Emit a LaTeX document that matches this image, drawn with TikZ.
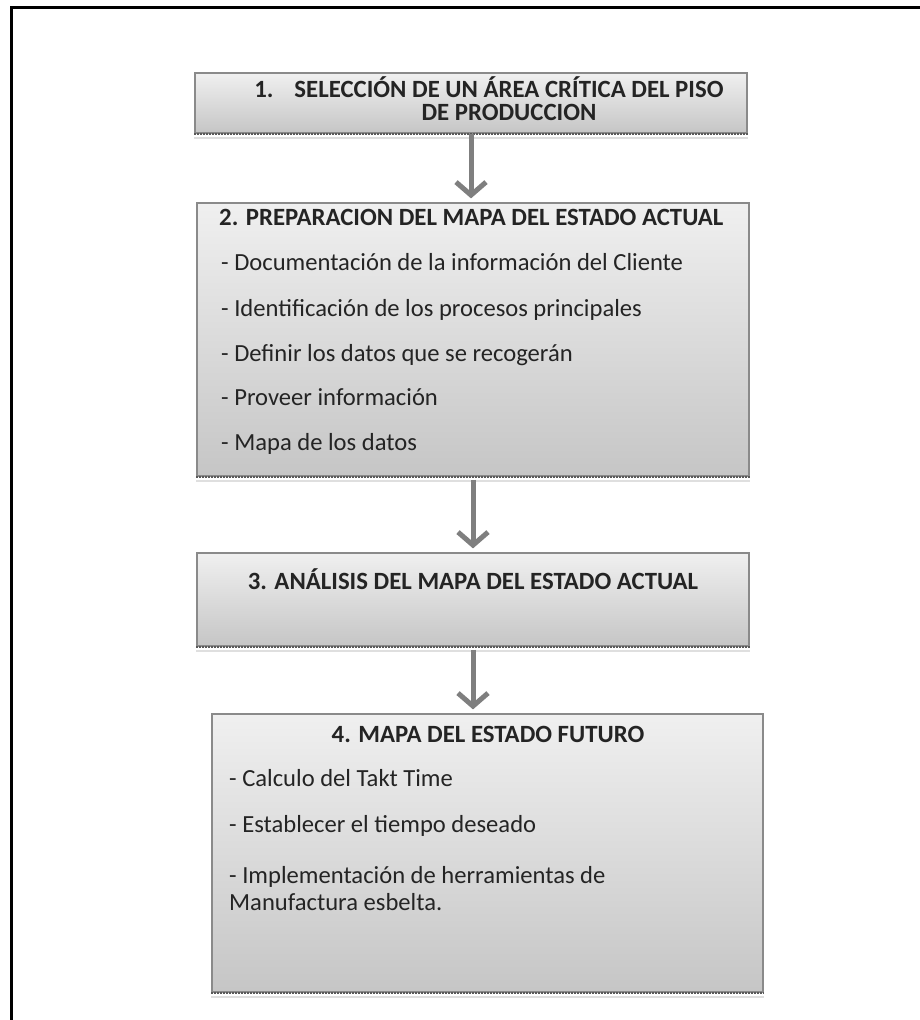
\documentclass[tikz,border=0pt]{standalone}
\usepackage{fontspec}
\setmainfont{Carlito}
\usetikzlibrary{arrows.meta,shadows}
\definecolor{txt}{HTML}{242424}
\definecolor{edge}{HTML}{8A8A8A}
\definecolor{arrowgray}{HTML}{7F7F7F}
\begin{document}
\begin{tikzpicture}[x=1pt,y=-1pt,
  box/.style={rectangle, draw=edge, line width=1.2pt, top color=gray!12, bottom color=gray!45, inner sep=0pt},
  hdr/.style={font=\fontsize{24.8}{23.5}\selectfont\bfseries, text=txt, inner sep=0pt},
  item/.style={font=\fontsize{24.6}{27}\selectfont, text=txt, inner sep=0pt, anchor=mid west, align=left},
  arr/.style={draw=arrowgray, line width=5pt, -{Straight Barb[length=13pt,width=30pt]}, shorten >=4pt},
  shadowline/.style={draw=gray!70!black, line width=2pt, dash pattern=on 2pt off 1pt}
]
\useasboundingbox (0,0) rectangle (920,1020);
% outer frame
\draw[line width=3pt, black] (11,1022) -- (11,7) -- (922,7);

% boxes
\node[box, minimum width=552pt, minimum height=60pt] (b1) at (471,103) {};
\node[box, minimum width=552pt, minimum height=273pt] (b2) at (473,339.5) {};
\node[box, minimum width=552pt, minimum height=93pt] (b3) at (473,599.5) {};
\node[box, minimum width=551pt, minimum height=278pt] (b4) at (487.5,853) {};

% bottom shadow edges
\foreach \b in {b1,b2,b3,b4}{
  \draw[shadowline] (\b.south west) -- (\b.south east);
  \draw[gray!25, line width=2pt] ([yshift=-4pt]\b.south west) -- ([yshift=-4pt]\b.south east);
}

% box 1 text
\node[hdr, anchor=north, align=center] (t1a) at (509,76) {\llap{1.\hspace{21pt}}SELECCIÓN DE UN ÁREA CRÍTICA DEL PISO\\DE PRODUCCION};

% box 2 text
\node[hdr, anchor=mid west] (t2h) at (219,223) {2. PREPARACION DEL MAPA DEL ESTADO ACTUAL};
\node[item] (t2a) at (221,268) {- Documentación de la información del Cliente};
\node[item] (t2b) at (221,314) {- Identificación de los procesos principales};
\node[item] (t2c) at (221,359) {- Definir los datos que se recogerán};
\node[item] (t2d) at (221,403) {- Proveer información};
\node[item] (t2e) at (221,448) {- Mapa de los datos};

% box 3 text
\node[hdr, anchor=mid] (t3h) at (473,587) {3. ANÁLISIS DEL MAPA DEL ESTADO ACTUAL};

% box 4 text
\node[hdr, anchor=mid] (t4h) at (488,740) {4. MAPA DEL ESTADO FUTURO};
\node[item] (t4a) at (229,784) {- Calculo del Takt Time};
\node[item] (t4b) at (229,830) {- Establecer el tiempo deseado};
\node[item, anchor=north west] (t4c) at (229,866) {- Implementación de herramientas de\\Manufactura esbelta.};

% arrows
\draw[arr] (b1.south) -- (b1.south |- b2.north);
\draw[arr] ([yshift=-3pt]b2.south) -- (b2.south |- b3.north);
\draw[arr] ([yshift=-3pt]b3.south) -- (b3.south |- b4.north);
\end{tikzpicture}
\end{document}
